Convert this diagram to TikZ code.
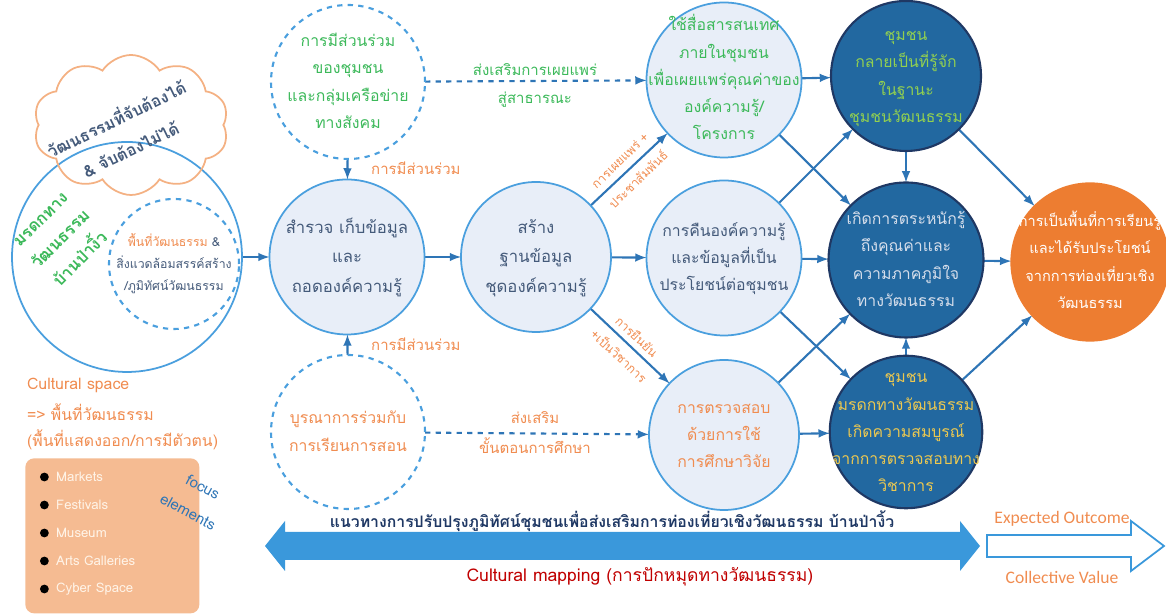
\documentclass[tikz,border=0pt]{standalone}
\usepackage{fontspec}
\usepackage{tikz-network}
\usetikzlibrary{shapes.symbols}
\setmainfont[Script=Thai]{Loma}
\newfontfamily\calib{Carlito}

\definecolor{slate}{RGB}{68,90,122}
\definecolor{leaf}{RGB}{60,185,90}
\definecolor{ochre}{RGB}{240,140,80}
\definecolor{paleblue}{RGB}{232,238,248}
\definecolor{rimblue}{RGB}{74,159,222}
\definecolor{deepblue}{RGB}{34,104,160}
\definecolor{navy}{RGB}{31,56,100}
\definecolor{arrowblue}{RGB}{46,117,182}
\definecolor{sunrise}{RGB}{237,125,49}
\definecolor{peach}{RGB}{245,187,146}
\definecolor{cream}{RGB}{255,244,232}
\definecolor{cloudline}{RGB}{244,177,131}
\definecolor{sprout}{RGB}{146,208,80}
\definecolor{gold}{RGB}{236,200,80}
\definecolor{mist}{RGB}{214,222,235}
\definecolor{bandblue}{RGB}{58,152,219}
\definecolor{crimson}{RGB}{192,0,0}

\newcommand{\circlines}[1]{\begin{tabular}{@{}c@{}}#1\end{tabular}}
\newcommand{\circfont}{\fontsize{9}{15.5}\selectfont}
\newcommand{\bigcircfont}{\fontsize{9.5}{17}\selectfont}

\tikzset{
  lightcirc/.style={draw=rimblue, line width=1pt},
  darkcirc/.style={draw=navy, line width=1.2pt},
  dashcirc/.style={draw=rimblue, line width=1.2pt, dashed},
  edgelabel/.style={font=\fontsize{8.5}{12}\selectfont, text=ochre},
  bulletitem/.style={anchor=west, text=cream, font=\fontsize{7.5}{9}\selectfont,
    label={[fill=black, circle, inner sep=0pt, minimum size=5pt, label distance=0.5pt]left:{}}},
}

\begin{document}
\begin{tikzpicture}
\useasboundingbox (0,0) rectangle (23.32,12.28);

% cultural space
\Vertex[x=2.54, y=7.14, size=4.6, color=white, opacity=1, NoLabel, style={draw=rimblue, line width=1pt}]{heritage}
\node[cloud, cloud puffs=10, cloud puff arc=115, aspect=1.4, draw=cloudline, line width=1pt,
  minimum width=3.9cm, minimum height=2.8cm] (cloud) at (2.62,9.78) {};
\node[rotate=26, align=center, text=slate, font=\bfseries\fontsize{9.3}{19}\selectfont] (tangible) at (2.46,9.62)
  {วัฒนธรรมที่จับต้องได้\\\& จับต้องไม่ได้};
\node[rotate=45, align=center, text=leaf, font=\bfseries\fontsize{9.5}{16}\selectfont] (heritagetext) at (1.22,7.48)
  {มรดกทาง\\วัฒนธรรม\\บ้านป่างิ้ว};
\Vertex[x=3.48, y=7.00, size=2.6, color=white, opacity=1, fontsize={\fontsize{7}{12.5}\selectfont}, fontcolor=slate,
  label={\circlines{\textcolor{ochre}{พื้นที่วัฒนธรรม} \&\\สิ่งแวดล้อมสรรค์สร้าง\\/ภูมิทัศน์วัฒนธรรม}}, style={dashcirc}]{place}

% process
\Vertex[x=6.96, y=10.64, size=3.08, color=white, opacity=1, fontsize=\circfont, fontcolor=leaf,
  label={\circlines{การมีส่วนร่วม\\ของชุมชน\\และกลุ่มเครือข่าย\\ทางสังคม}}, style={dashcirc}]{network}
\Vertex[x=6.94, y=7.14, size=3.1, color=paleblue, opacity=1, fontsize=\bigcircfont, fontcolor=slate,
  label={\circlines{สำรวจ เก็บข้อมูล\\และ\\ถอดองค์ความรู้}}, style={lightcirc}]{survey}
\Vertex[x=6.96, y=3.64, size=3.08, color=white, opacity=1, fontsize=\circfont, fontcolor=ochre,
  label={\circlines{บูรณาการร่วมกับ\\การเรียนการสอน}}, style={dashcirc}]{classroom}
\Vertex[x=10.72, y=7.14, size=3.0, color=paleblue, opacity=1, fontsize=\bigcircfont, fontcolor=slate,
  label={\circlines{สร้าง\\ฐานข้อมูล\\ชุดองค์ความรู้}}, style={lightcirc}]{database}
\Vertex[x=14.48, y=10.68, size=3.1, color=paleblue, opacity=1, fontsize=\circfont, fontcolor=leaf,
  label={\circlines{ใช้สื่อสารสนเทศ\\ภายในชุมชน\\เพื่อเผยแพร่คุณค่าของ\\องค์ความรู้/\\โครงการ}}, style={lightcirc}]{media}
\Vertex[x=14.48, y=7.12, size=3.1, color=paleblue, opacity=1, fontsize=\circfont, fontcolor=slate,
  label={\circlines{การคืนองค์ความรู้\\และข้อมูลที่เป็น\\ประโยชน์ต่อชุมชน}}, style={lightcirc}]{giveback}
\Vertex[x=14.48, y=3.58, size=3.0, color=paleblue, opacity=1, fontsize=\circfont, fontcolor=ochre,
  label={\circlines{การตรวจสอบ\\ด้วยการใช้\\การศึกษาวิจัย}}, style={lightcirc}]{verify}

% results
\Vertex[x=18.12, y=10.76, size=3.0, color=deepblue, opacity=1, fontsize=\circfont, fontcolor=sprout,
  label={\circlines{ชุมชน\\กลายเป็นที่รู้จัก\\ในฐานะ\\ชุมชนวัฒนธรรม}}, style={darkcirc}]{known}
\Vertex[x=18.12, y=7.08, size=3.1, color=deepblue, opacity=1, fontsize=\circfont, fontcolor=mist,
  label={\circlines{เกิดการตระหนักรู้\\ถึงคุณค่าและ\\ความภาคภูมิใจ\\ทางวัฒนธรรม}}, style={darkcirc}]{aware}
\Vertex[x=18.12, y=3.64, size=3.05, color=deepblue, opacity=1, fontsize=\circfont, fontcolor=gold,
  label={\circlines{ชุมชน\\มรดกทางวัฒนธรรม\\เกิดความสมบูรณ์\\จากการตรวจสอบทาง\\วิชาการ}}, style={darkcirc}]{complete}
\Vertex[x=21.80, y=7.04, size=3.15, color=sunrise, opacity=1, fontsize={\fontsize{8.3}{15.5}\selectfont}, fontcolor=white,
  label={\circlines{การเป็นพื้นที่การเรียนรู้\\และได้รับประโยชน์\\จากการท่องเที่ยวเชิง\\วัฒนธรรม}}, style={draw=sunrise}]{outcome}

\Edge[Direct, color=arrowblue, lw=1.2](heritage)(survey)
\Edge[Direct, color=arrowblue, lw=1.2](network)(survey)
\Edge[Direct, color=arrowblue, lw=1.2](classroom)(survey)
\Edge[Direct, color=arrowblue, lw=1.2](survey)(database)
\Edge[Direct, color=arrowblue, lw=1.2, style={dashed}](network)(media)
\Edge[Direct, color=arrowblue, lw=1.2, style={dashed}](classroom)(verify)
\Edge[Direct, color=arrowblue, lw=1.2](database)(media)
\Edge[Direct, color=arrowblue, lw=1.2](database)(giveback)
\Edge[Direct, color=arrowblue, lw=1.2](database)(verify)
\Edge[Direct, color=arrowblue, lw=1.2](media)(known)
\Edge[Direct, color=arrowblue, lw=1.2](media)(aware)
\Edge[Direct, color=arrowblue, lw=1.2](giveback)(known)
\Edge[Direct, color=arrowblue, lw=1.2](giveback)(aware)
\Edge[Direct, color=arrowblue, lw=1.2](giveback)(complete)
\Edge[Direct, color=arrowblue, lw=1.2](verify)(aware)
\Edge[Direct, color=arrowblue, lw=1.2](verify)(complete)
\Edge[Direct, color=arrowblue, lw=1.2](known)(aware)
\Edge[Direct, color=arrowblue, lw=1.2](complete)(aware)
\Edge[Direct, color=arrowblue, lw=1.2](known)(outcome)
\Edge[Direct, color=arrowblue, lw=1.2](aware)(outcome)
\Edge[Direct, color=arrowblue, lw=1.2](complete)(outcome)

% edge texts
\node[edgelabel, anchor=west] (joinup) at (7.30,8.92) {การมีส่วนร่วม};
\node[edgelabel, anchor=west] (joindown) at (7.30,5.40) {การมีส่วนร่วม};
\node[edgelabel, text=leaf] (spreadup) at (10.70,10.88) {ส่งเสริมการเผยแพร่};
\node[edgelabel, text=leaf] (spreaddown) at (10.70,10.28) {สู่สาธารณะ};
\node[edgelabel] (studyup) at (10.70,3.92) {ส่งเสริม};
\node[edgelabel] (studydown) at (10.70,3.36) {ขั้นตอนการศึกษา};
\node[rotate=44, align=center, text=ochre, font=\fontsize{7}{15}\selectfont] (publicity) at (12.58,8.88) {การเผยแพร่ +\\ประชาสัมพันธ์};
\node[rotate=-43, align=center, text=ochre, font=\fontsize{7}{15}\selectfont] (confirm) at (12.56,5.36) {การยืนยัน\\+เป็นวิชาการ};

% focus elements
\node[anchor=west, text=ochre, font=\fontsize{9}{11}\selectfont] (spacetitle) at (0.42,4.58) {Cultural space};
\node[anchor=west, text=ochre, font=\fontsize{9}{11}\selectfont] (spacethai) at (0.42,4.04) {=> พื้นที่วัฒนธรรม};
\node[anchor=west, text=ochre, font=\fontsize{9}{11}\selectfont] (spacenote) at (0.42,3.48) {(พื้นที่แสดงออก/การมีตัวตน)};
\node[fill=peach, rounded corners=5pt, minimum width=3.48cm, minimum height=3.1cm, anchor=north west] (focusbox) at (0.5,3.12) {};
\node[bulletitem] (markets) at (1.0,2.74) {Markets};
\node[bulletitem] (festivals) at (1.0,2.18) {Festivals};
\node[bulletitem] (museum) at (1.0,1.62) {Museum};
\node[bulletitem] (galleries) at (1.0,1.06) {Arts Galleries};
\node[bulletitem] (cyber) at (1.0,0.50) {Cyber Space};
\node[rotate=-28, text=arrowblue, font=\fontsize{8.5}{10}\selectfont] (focus) at (4.06,2.54) {focus};
\node[rotate=-28, text=arrowblue, font=\fontsize{8.5}{10}\selectfont] (elements) at (3.76,2.04) {elements};

% bottom arrows
\fill[bandblue] (5.30,1.36) -- (5.70,1.86) -- (5.70,1.64) -- (19.20,1.64) -- (19.20,1.86) -- (19.60,1.36)
  -- (19.20,0.86) -- (19.20,1.08) -- (5.70,1.08) -- (5.70,0.86) -- cycle;
\draw[bandblue, line width=1pt, fill=white] (19.74,1.58) -- (22.62,1.58) -- (22.62,1.86) -- (23.28,1.36)
  -- (22.62,0.86) -- (22.62,1.14) -- (19.74,1.14) -- cycle;
\node[text=navy, font=\bfseries\fontsize{9}{11}\selectfont] (guideline) at (12.24,1.86)
  {แนวทางการปรับปรุงภูมิทัศน์ชุมชนเพื่อส่งเสริมการท่องเที่ยวเชิงวัฒนธรรม บ้านป่างิ้ว};
\node[text=crimson, font=\fontsize{10}{12}\selectfont] (mapping) at (12.80,0.74) {Cultural mapping (การปักหมุดทางวัฒนธรรม)};
\node[text=ochre, font=\calib\fontsize{10}{12}\selectfont] (expected) at (21.24,1.90) {Expected Outcome};
\node[text=ochre, font=\calib\fontsize{10}{12}\selectfont] (collective) at (21.24,0.74) {Collective Value};
\end{tikzpicture}
\end{document}
